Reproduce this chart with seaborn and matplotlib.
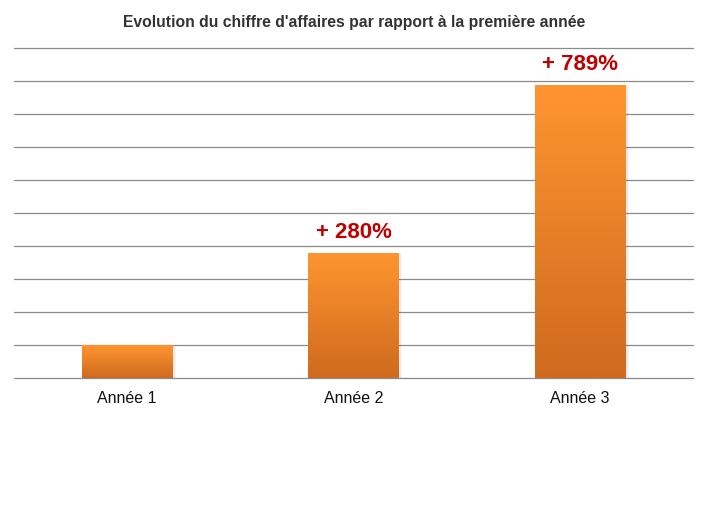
import numpy as np
import pandas as pd
import seaborn as sns
import matplotlib.pyplot as plt
from matplotlib.colors import LinearSegmentedColormap

categories = ["Année 1", "Année 2", "Année 3"]
values = [1.0, 3.8, 8.89]
labels = ["", "+ 280%", "+ 789%"]

sns.set_style("white")
plt.rcParams["font.family"] = ["Liberation Sans", "DejaVu Sans"]

df = pd.DataFrame({"Année": categories, "Valeur": values})

fig = plt.figure(figsize=(7.27, 5.13), dpi=100)
ax = fig.add_axes([14 / 727, 1 - 378 / 513, 679 / 727, 330 / 513])

sns.barplot(data=df, x="Année", y="Valeur", color="#f08a2a", width=0.4, ax=ax, zorder=3)

ax.set_ylim(0, 10)
ax.set_xlim(-0.5, 2.5)
ax.set_yticks(np.arange(0, 11, 1))
ax.yaxis.grid(True, color="#8a8a8a", linewidth=0.9)
for gl in ax.get_ygridlines():
    gl.set_clip_on(False)
ax.set_axisbelow(True)
for s in ax.spines.values():
    s.set_visible(False)
ax.tick_params(axis="y", left=False, labelleft=False)
ax.tick_params(axis="x", bottom=False, pad=6, labelsize=11.5, labelcolor="#111111")
ax.set_xlabel("")
ax.set_ylabel("")

# gradient fill on the bars (light orange at top, darker at bottom)
cmap = LinearSegmentedColormap.from_list("orange", ["#ff9530", "#cf6a1f"])
grad = np.linspace(1, 0, 256).reshape(-1, 1)
bars = list(ax.patches)
for bar in bars:
    x0, y0 = bar.get_x(), bar.get_y()
    w, h = bar.get_width(), bar.get_height()
    # soft shadow
    ax.bar(x0 + w / 2 + 0.012, h, width=w, bottom=y0, color="#000000", alpha=0.08, zorder=2)
    im = ax.imshow(grad, cmap=cmap, aspect="auto", extent=[x0, x0 + w, y0, y0 + h],
                   zorder=4, origin="lower")
    im.set_clip_path(bar)
    bar.set_alpha(0)

for bar, lab in zip(bars, labels):
    if lab:
        ax.annotate(lab, (bar.get_x() + bar.get_width() / 2, bar.get_height()),
                    xytext=(0, 7), textcoords="offset points", ha="center", va="bottom",
                    fontsize=16, fontweight="bold", color="#c00000")

ax.set_ylim(0, 10)
ax.set_xlim(-0.5, 2.5)

fig.text(354 / 727, 1 - 22 / 513, "Evolution du chiffre d'affaires par rapport à la première année",
         ha="center", va="center", fontsize=11.3, fontweight="bold", color="#333333")

fig.savefig("out.png", dpi=100)
